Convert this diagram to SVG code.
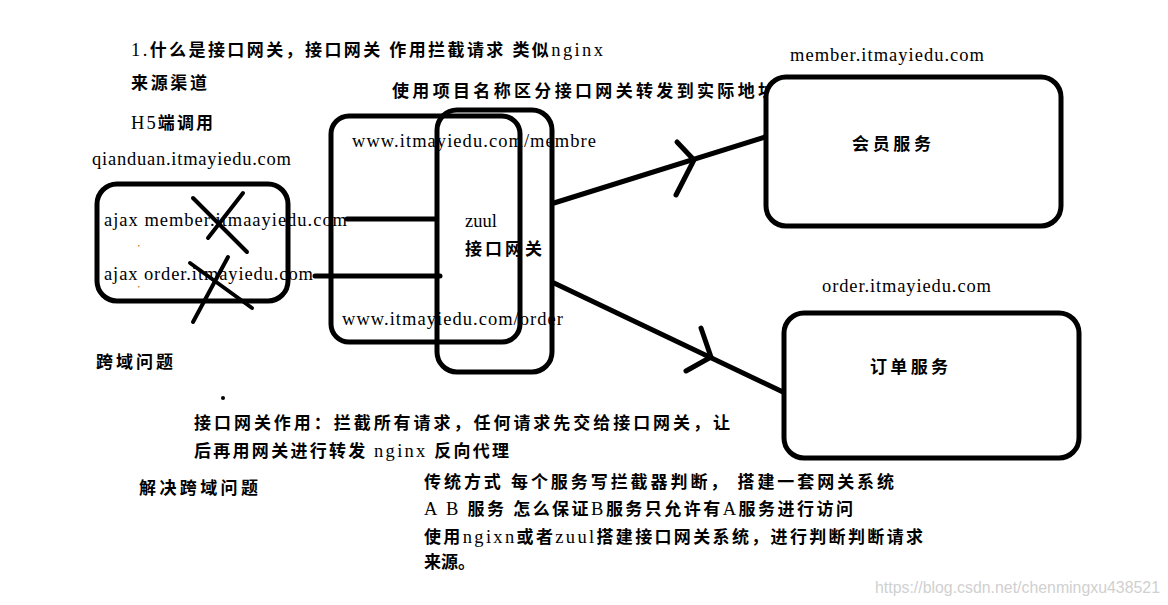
<svg xmlns="http://www.w3.org/2000/svg" width="1168" height="605" viewBox="0 0 1168 605">
<style>
.t{font-family:"Liberation Serif","Noto Sans CJK SC",serif;font-size:18.5px;fill:#000}
.c{font-family:"Liberation Serif","Noto Sans CJK SC",serif;font-size:17px;font-weight:bold;fill:#000}
.n{font-weight:normal;font-size:18.5px}
.box{fill:none;stroke:#000;stroke-width:5}
.wbox{fill:#fff;stroke:#000;stroke-width:5}
.ln{stroke:#000;stroke-width:5;stroke-linecap:round;fill:none}
.x{stroke:#000;stroke-width:4;stroke-linecap:round}
.wm{font-family:"Liberation Sans",sans-serif;font-size:16px;fill:#d0d0d0}
</style>
<rect width="1168" height="605" fill="#fff"/>
<g id="notes">
<text class="c" x="131" y="56" textLength="472" lengthAdjust="spacing"><tspan class="n">1.</tspan>什么是接口网关，接口网关 作用拦截请求 类似<tspan class="n">nginx</tspan></text>
<text class="c" x="131" y="89" textLength="76" lengthAdjust="spacing">来源渠道</text>
<text class="c" x="131" y="129" textLength="82" lengthAdjust="spacing"><tspan class="n">H5</tspan>端调用</text>
<text class="t" x="92" y="165" textLength="199" lengthAdjust="spacing">qianduan.itmayiedu.com</text>
<text class="c" x="392" y="97" textLength="383" lengthAdjust="spacing">使用项目名称区分接口网关转发到实际地址</text>
<text class="t" x="790" y="61" textLength="194" lengthAdjust="spacing">member.itmayiedu.com</text>
<text class="t" x="822" y="292" textLength="169" lengthAdjust="spacing">order.itmayiedu.com</text>
<text class="c" x="96" y="368" textLength="77" lengthAdjust="spacing">跨域问题</text>
<circle cx="223" cy="398" r="2" fill="#000"/>
<text class="c" x="194" y="429" textLength="536" lengthAdjust="spacing">接口网关作用：拦截所有请求，任何请求先交给接口网关，让</text>
<text class="c" x="194" y="457" textLength="315" lengthAdjust="spacing">后再用网关进行转发 <tspan class="n">nginx</tspan> 反向代理</text>
<text class="c" x="139" y="494" textLength="119" lengthAdjust="spacing">解决跨域问题</text>
<text class="c" x="424" y="488" textLength="470" lengthAdjust="spacing">传统方式 每个服务写拦截器判断， 搭建一套网关系统</text>
<text class="c" x="424" y="515" textLength="429" lengthAdjust="spacing"><tspan class="n">A B</tspan> 服务 怎么保证<tspan class="n">B</tspan>服务只允许有<tspan class="n">A</tspan>服务进行访问</text>
<text class="c" x="424" y="543" textLength="499" lengthAdjust="spacing">使用<tspan class="n">ngixn</tspan>或者<tspan class="n">zuul</tspan>搭建接口网关系统，进行判断判断请求</text>
<text class="c" x="424" y="568">来源。</text>
<text class="wm" x="875" y="593" textLength="285" lengthAdjust="spacingAndGlyphs">https://blog.csdn.net/chenmingxu438521</text>
</g>
<g id="client">
<rect class="box" x="97" y="184" width="191" height="117" rx="20"/>
<text class="t" x="104" y="226" textLength="243" lengthAdjust="spacing">ajax member.itmaayiedu.com</text>
<text class="t" x="104" y="280" textLength="209" lengthAdjust="spacing">ajax order.itmayiedu.com</text>
<rect x="138" y="245" width="1.5" height="1.5" fill="#e08a2c"/>
<rect x="138" y="286" width="1.5" height="1.5" fill="#e08a2c"/>
<line class="x" x1="193" y1="198" x2="247" y2="252"/>
<line class="x" x1="243" y1="193" x2="208" y2="238"/>
<line class="x" x1="190" y1="263" x2="252" y2="308"/>
<line class="x" x1="228" y1="257" x2="193" y2="322"/>
</g>
<g id="gateway">
<rect class="box" x="331" y="116" width="189" height="226" rx="18"/>
<rect class="box" x="437" y="110" width="115" height="262" rx="20"/>
<text class="t" x="352" y="147" textLength="244" lengthAdjust="spacing">www.itmayiedu.com/membre</text>
<text class="t" x="465" y="227">zuul</text>
<text class="c" x="465" y="255" textLength="77" lengthAdjust="spacing">接口网关</text>
<text class="t" x="342" y="325" textLength="221" lengthAdjust="spacing">www.itmayiedu.com/order</text>
</g>
<g id="member-service">
<rect class="wbox" x="766" y="77" width="295" height="149" rx="20"/>
<text class="c" x="852" y="150" textLength="79" lengthAdjust="spacing">会员服务</text>
</g>
<g id="order-service">
<rect class="wbox" x="784" y="313" width="295" height="145" rx="20"/>
<text class="c" x="870" y="373" textLength="78" lengthAdjust="spacing">订单服务</text>
</g>
<g id="connectors">
<line class="ln" x1="347" y1="219" x2="436" y2="219"/>
<line class="ln" x1="315" y1="276" x2="440" y2="276"/>
<line class="ln" x1="554" y1="203" x2="765" y2="137"/>
<polyline class="ln" points="677,142 694,160 676,195"/>
<line class="ln" x1="554" y1="283" x2="783" y2="392"/>
<polyline class="ln" points="701,328 711,357 686,371"/>
</g>
</svg>
